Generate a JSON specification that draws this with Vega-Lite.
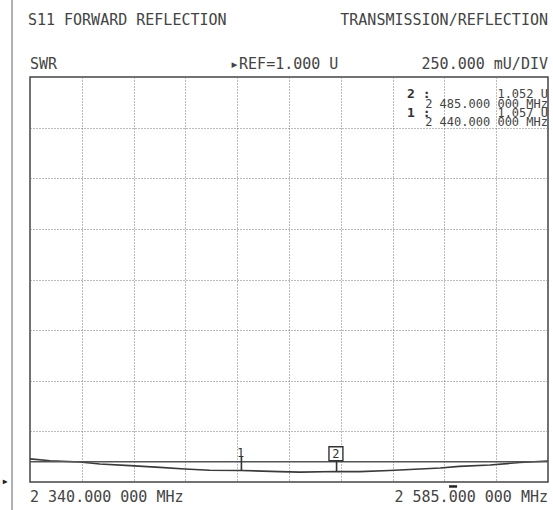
{
  "$schema": "https://vega.github.io/schema/vega-lite/v6.json",
  "autosize": {"type": "none"},
  "width": 518,
  "height": 405,
  "padding": {"left": 30, "top": 77, "right": 5, "bottom": 28},
  "background": "white",
  "config": {"view": {"stroke": "#444", "strokeWidth": 1.5}},
  "datasets": {
    "trace": [
      {"freq": 2340.0, "swr": 1.114},
      {"freq": 2349.5, "swr": 1.105},
      {"freq": 2363.6, "swr": 1.099},
      {"freq": 2373.0, "swr": 1.089},
      {"freq": 2387.3, "swr": 1.081},
      {"freq": 2401.5, "swr": 1.072},
      {"freq": 2413.3, "swr": 1.064},
      {"freq": 2425.0, "swr": 1.058},
      {"freq": 2440.0, "swr": 1.057},
      {"freq": 2458.0, "swr": 1.051},
      {"freq": 2467.7, "swr": 1.049},
      {"freq": 2485.0, "swr": 1.052},
      {"freq": 2496.0, "swr": 1.051},
      {"freq": 2510.0, "swr": 1.057},
      {"freq": 2524.5, "swr": 1.064},
      {"freq": 2534.0, "swr": 1.069},
      {"freq": 2543.0, "swr": 1.077},
      {"freq": 2557.6, "swr": 1.084},
      {"freq": 2571.7, "swr": 1.096},
      {"freq": 2585.0, "swr": 1.104}
    ],
    "labels": [
      {"role": "headL", "freq": 2339.0, "swr": 3.281, "text": "S11 FORWARD REFLECTION"},
      {"role": "headR", "freq": 2585.0, "swr": 3.281, "text": "TRANSMISSION/REFLECTION"},
      {"role": "headL", "freq": 2340.0, "swr": 3.064, "text": "SWR"},
      {"role": "headL", "freq": 2434.6, "swr": 3.064, "text": "▸REF=1.000 U"},
      {"role": "headR", "freq": 2585.0, "swr": 3.064, "text": "250.000 mU/DIV"},
      {"role": "headL", "freq": 2340.0, "swr": 0.926, "text": "2 340.000 000 MHz"},
      {"role": "headR", "freq": 2585.0, "swr": 0.926, "text": "2 585.000 000 MHz"},
      {"role": "headC", "freq": 2328.2, "swr": 1.005, "text": "▸"},
      {"role": "mkL", "freq": 2518.3, "swr": 2.916, "text": "2 :"},
      {"role": "mkV", "freq": 2585.0, "swr": 2.916, "text": "1.052 U"},
      {"role": "mkF", "freq": 2585.0, "swr": 2.869, "text": "2 485.000 000 MHz"},
      {"role": "mkL", "freq": 2518.3, "swr": 2.824, "text": "1 :"},
      {"role": "mkV", "freq": 2585.0, "swr": 2.824, "text": "1.057 U"},
      {"role": "mkF", "freq": 2585.0, "swr": 2.778, "text": "2 440.000 000 MHz"},
      {"role": "tag", "freq": 2439.6, "swr": 1.143, "text": "1"},
      {"role": "tag", "freq": 2484.7, "swr": 1.14, "text": "2"}
    ],
    "markers": [
      {"m": "1", "freq": 2440, "swr": 1.057, "top": 1.125},
      {"m": "2", "freq": 2485, "swr": 1.052, "top": 1.105}
    ],
    "box": [
      {"x1": 2481.4, "x2": 2488.0, "y1": 1.105, "y2": 1.174}
    ]
  },
  "layer": [
    {
      "data": {"name": "trace"},
      "mark": {"type": "line", "color": "#3a3a3a", "strokeWidth": 1.6, "clip": true},
      "encoding": {
        "x": {
          "field": "freq", "type": "quantitative",
          "scale": {"domain": [2340, 2585], "nice": false, "zero": false},
          "axis": {
            "values": [2364.5, 2389, 2413.5, 2438, 2462.5, 2487, 2511.5, 2536, 2560.5],
            "grid": true, "gridDash": [1, 2], "gridColor": "#777", "gridWidth": 1,
            "labels": false, "ticks": false, "domain": false, "title": null
          }
        },
        "y": {
          "field": "swr", "type": "quantitative",
          "scale": {"domain": [1, 3], "nice": false, "zero": false},
          "axis": {
            "values": [1.25, 1.5, 1.75, 2, 2.25, 2.5, 2.75],
            "grid": true, "gridDash": [1, 2], "gridColor": "#777", "gridWidth": 1,
            "labels": false, "ticks": false, "domain": false, "title": null
          }
        }
      }
    },
    {
      "data": {"values": [{}]},
      "mark": {"type": "rule", "color": "#555", "strokeWidth": 1.4},
      "encoding": {"y": {"datum": 1.1, "type": "quantitative"}}
    },
    {
      "data": {"values": [{}]},
      "mark": {"type": "rule", "color": "#b0b0b0", "strokeWidth": 2, "clip": false},
      "encoding": {
        "x": {"datum": 2331.5, "type": "quantitative"},
        "y": {"datum": 3.38, "type": "quantitative"},
        "y2": {"datum": 0.862}
      }
    },
    {
      "data": {"values": [{}]},
      "mark": {"type": "rule", "color": "#222", "strokeWidth": 2.5, "clip": false},
      "encoding": {
        "x": {"datum": 2538.2, "type": "quantitative"},
        "x2": {"datum": 2542.0},
        "y": {"datum": 0.978, "type": "quantitative"}
      }
    },
    {
      "data": {"name": "markers"},
      "mark": {"type": "rule", "color": "#333", "strokeWidth": 1.6},
      "encoding": {
        "x": {"field": "freq", "type": "quantitative"},
        "y": {"field": "swr", "type": "quantitative"},
        "y2": {"field": "top"}
      }
    },
    {
      "data": {"name": "box"},
      "mark": {"type": "rect", "fill": "white", "stroke": "#333", "strokeWidth": 1.4},
      "encoding": {
        "x": {"field": "x1", "type": "quantitative"},
        "x2": {"field": "x2"},
        "y": {"field": "y1", "type": "quantitative"},
        "y2": {"field": "y2"}
      }
    },
    {
      "data": {"name": "labels"},
      "transform": [{"filter": "datum.role == 'headL'"}],
      "mark": {"type": "text", "align": "left", "baseline": "middle", "font": "DejaVu Sans Mono", "fontSize": 15, "color": "#444", "clip": false},
      "encoding": {
        "x": {"field": "freq", "type": "quantitative"},
        "y": {"field": "swr", "type": "quantitative"},
        "text": {"field": "text"}
      }
    },
    {
      "data": {"name": "labels"},
      "transform": [{"filter": "datum.role == 'headR'"}],
      "mark": {"type": "text", "align": "right", "baseline": "middle", "font": "DejaVu Sans Mono", "fontSize": 15, "color": "#444", "clip": false},
      "encoding": {
        "x": {"field": "freq", "type": "quantitative"},
        "y": {"field": "swr", "type": "quantitative"},
        "text": {"field": "text"}
      }
    },
    {
      "data": {"name": "labels"},
      "transform": [{"filter": "datum.role == 'headC'"}],
      "mark": {"type": "text", "align": "center", "baseline": "middle", "font": "DejaVu Sans Mono", "fontSize": 12, "color": "#222", "clip": false},
      "encoding": {
        "x": {"field": "freq", "type": "quantitative"},
        "y": {"field": "swr", "type": "quantitative"},
        "text": {"field": "text"}
      }
    },
    {
      "data": {"name": "labels"},
      "transform": [{"filter": "datum.role == 'mkL'"}],
      "mark": {"type": "text", "align": "left", "baseline": "middle", "font": "DejaVu Sans Mono", "fontSize": 13, "fontWeight": "bold", "color": "#333"},
      "encoding": {
        "x": {"field": "freq", "type": "quantitative"},
        "y": {"field": "swr", "type": "quantitative"},
        "text": {"field": "text"}
      }
    },
    {
      "data": {"name": "labels"},
      "transform": [{"filter": "datum.role == 'mkV'"}],
      "mark": {"type": "text", "align": "right", "baseline": "middle", "font": "DejaVu Sans Mono", "fontSize": 12, "color": "#444"},
      "encoding": {
        "x": {"field": "freq", "type": "quantitative"},
        "y": {"field": "swr", "type": "quantitative"},
        "text": {"field": "text"}
      }
    },
    {
      "data": {"name": "labels"},
      "transform": [{"filter": "datum.role == 'mkF'"}],
      "mark": {"type": "text", "align": "right", "baseline": "middle", "font": "DejaVu Sans Mono", "fontSize": 12, "color": "#444"},
      "encoding": {
        "x": {"field": "freq", "type": "quantitative"},
        "y": {"field": "swr", "type": "quantitative"},
        "text": {"field": "text"}
      }
    },
    {
      "data": {"name": "labels"},
      "transform": [{"filter": "datum.role == 'tag'"}],
      "mark": {"type": "text", "align": "center", "baseline": "middle", "font": "DejaVu Sans Mono", "fontSize": 12, "color": "#333"},
      "encoding": {
        "x": {"field": "freq", "type": "quantitative"},
        "y": {"field": "swr", "type": "quantitative"},
        "text": {"field": "text"}
      }
    }
  ]
}
